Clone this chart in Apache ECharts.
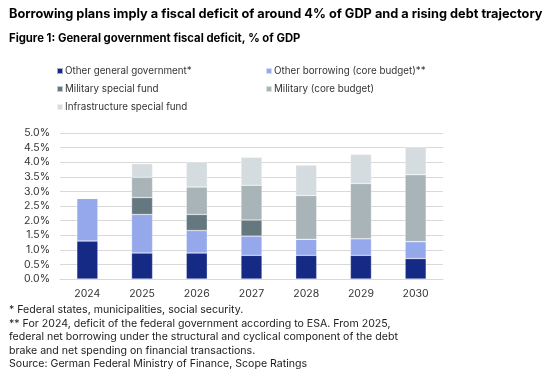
<!DOCTYPE html>
<html>
<head>
<meta charset="utf-8">
<script src="https://cdn.jsdelivr.net/npm/echarts@6/dist/echarts.min.js"></script>
<style>html,body{margin:0;padding:0;background:#fff}#c{width:550px;height:382px}</style>
</head>
<body>
<div id="c"></div>
<script>
const categories = ['2024','2025','2026','2027','2028','2029','2030'];
const otherGeneralGov = [1.30, 0.89, 0.89, 0.81, 0.81, 0.81, 0.70];
const otherBorrowing = [1.46, 1.32, 0.77, 0.66, 0.55, 0.57, 0.58];
const militarySpecialFund = [0, 0.58, 0.55, 0.55, 0, 0, 0];
const militaryCore = [0, 0.69, 0.94, 1.19, 1.50, 1.89, 2.29];
const infrastructureFund = [0, 0.47, 0.86, 0.96, 1.04, 1.00, 0.95];
const yTicks = [0, 0.5, 1.0, 1.5, 2.0, 2.5, 3.0, 3.5, 4.0, 4.5, 5.0];

const seriesNames = ['Other general government*', 'Other borrowing (core budget)**', 'Military special fund', 'Military (core budget)', 'Infrastructure special fund'];
const seriesData = [otherGeneralGov, otherBorrowing, militarySpecialFund, militaryCore, infrastructureFund];
const colors = ['#152A85', '#96A8EC', '#66787F', '#A9B4B9', '#D5DCDF'];
const legendPos = [[56, 66], [265, 66], [56, 84], [265, 84], [56, 102]];

const font = 'Inter, "Noto Sans", sans-serif';
const chart = echarts.init(document.getElementById('c'), null, {renderer: 'canvas'});
chart.setOption({
  animation: false,
  textStyle: {fontFamily: font},
  title: [
    {text: 'Borrowing plans imply a fiscal deficit of around 4% of GDP and a rising debt trajectory', left: 4, top: 3,
     textStyle: {fontSize: 12.75, fontWeight: 'bold', color: '#000', fontFamily: font}},
    {text: 'Figure 1: General government fiscal deficit, % of GDP', left: 4, top: 28,
     textStyle: {fontSize: 11.3, fontWeight: 'bold', color: '#000', fontFamily: font}},
    {text: '* Federal states, municipalities, social security.\n** For 2024, deficit of the federal government according to ESA. From 2025,\nfederal net borrowing under the structural and cyclical component of the debt\nbrake and net spending on financial transactions.\nSource: German Federal Ministry of Finance, Scope Ratings',
     left: 4, top: 298,
     textStyle: {fontSize: 10.6, fontWeight: 'normal', color: '#222', lineHeight: 13.6, fontFamily: font}}
  ],
  legend: seriesNames.map((n, i) => ({
    data: [n], left: legendPos[i][0], top: legendPos[i][1], icon: 'rect', itemWidth: 6, itemHeight: 6, itemGap: 0,
    padding: 0, textStyle: {fontSize: 9.8, color: '#333', padding: [0, 0, 0, -3], fontFamily: font}
  })),
  grid: {left: 60, right: 107, top: 133, bottom: 103, containLabel: false},
  xAxis: {
    type: 'category', data: categories,
    axisLine: {show: true, lineStyle: {color: '#D9D9D9'}}, axisTick: {show: false},
    axisLabel: {fontSize: 10.5, color: '#333', margin: 9, fontFamily: font}
  },
  yAxis: {
    type: 'value', min: 0, max: 5, interval: 0.5,
    axisLine: {show: false}, axisTick: {show: false},
    splitLine: {lineStyle: {color: '#D9D9D9', width: 1}},
    axisLabel: {fontSize: 10.5, color: '#333', margin: 10, fontFamily: font,
      formatter: v => yTicks.includes(+v.toFixed(1)) ? v.toFixed(1) + '%' : ''}
  },
  series: seriesNames.map((n, i) => ({
    name: n, type: 'bar', stack: 'total', data: seriesData[i], barWidth: 21,
    itemStyle: {color: colors[i], borderColor: 'rgba(255,255,255,0.6)', borderWidth: 0.5}
  }))
});
</script>
</body>
</html>
